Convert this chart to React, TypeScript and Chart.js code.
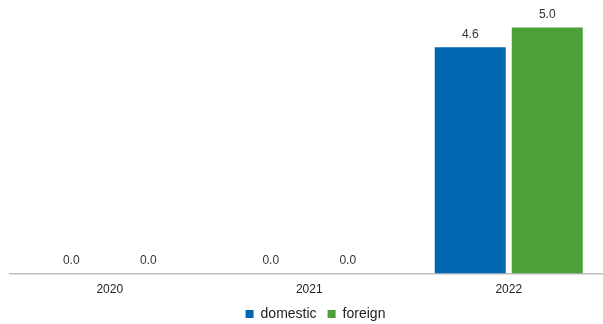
import React, { useEffect, useRef } from "react";
import { Chart, registerables } from "chart.js";

Chart.register(...registerables);

const categories = ["2020", "2021", "2022"];
const seriesNames = ["domestic", "foreign"];
const domesticValues = [0.0, 0.0, 4.6];
const foreignValues = [0.0, 0.0, 5.0];
const seriesColors = ["#0066B0", "#4D9F38"];

const FONT = "'Liberation Sans', Arial, Helvetica, sans-serif";

const valueLabels = {
  id: "valueLabels",
  afterDatasetsDraw(chart: any) {
    const ctx = chart.ctx;
    ctx.save();
    ctx.font = `12px ${FONT}`;
    ctx.fillStyle = "#333333";
    ctx.textAlign = "center";
    ctx.textBaseline = "middle";
    chart.data.datasets.forEach((ds: any, i: number) => {
      const meta = chart.getDatasetMeta(i);
      meta.data.forEach((el: any, j: number) => {
        const v = Number(ds.data[j]);
        ctx.fillText(v.toFixed(1), el.x, el.y - 12.5);
      });
    });
    ctx.restore();
  },
};

// Simple bottom legend drawn from the datasets
const bottomLegend = {
  id: "bottomLegend",
  afterDraw(chart: any) {
    const ctx = chart.ctx;
    const box = 8;
    const textGap = 7;
    const itemGap = 11;
    const cy = chart.height - 10;
    ctx.save();
    ctx.font = `14px ${FONT}`;
    ctx.textBaseline = "middle";
    ctx.textAlign = "left";
    const items = chart.data.datasets.map((ds: any) => ({
      text: String(ds.label),
      color: ds.backgroundColor,
      w: ctx.measureText(String(ds.label)).width,
    }));
    let total = 0;
    items.forEach((it: any, i: number) => {
      total += box + textGap + it.w + (i < items.length - 1 ? itemGap : 0);
    });
    let x = chart.width / 2 - total / 2;
    items.forEach((it: any) => {
      ctx.fillStyle = it.color;
      ctx.fillRect(x, cy - box / 2, box, box);
      x += box + textGap;
      ctx.fillStyle = "#222222";
      ctx.fillText(it.text, x, cy);
      x += it.w + itemGap;
    });
    ctx.restore();
  },
};

export default function App() {
  const ref = useRef<HTMLCanvasElement | null>(null);

  useEffect(() => {
    if (!ref.current) return;
    const chart = new Chart(ref.current, {
      type: "bar",
      data: {
        labels: categories,
        datasets: [
          {
            label: seriesNames[0],
            data: domesticValues,
            backgroundColor: seriesColors[0],
            borderWidth: 0,
            categoryPercentage: 0.772,
            barPercentage: 0.922,
          },
          {
            label: seriesNames[1],
            data: foreignValues,
            backgroundColor: seriesColors[1],
            borderWidth: 0,
            categoryPercentage: 0.772,
            barPercentage: 0.922,
          },
        ],
      },
      options: {
        animation: false,
        responsive: false,
        layout: { padding: { top: 3, bottom: 18, left: 0, right: 0 } },
        plugins: {
          tooltip: { enabled: false },
          legend: { display: false },
        },
        scales: {
          x: {
            grid: { display: false, drawTicks: false },
            border: { display: true, color: "#BDBDBD", width: 1.5 },
            ticks: { color: "#222222", font: { size: 12, family: FONT }, padding: 9 },
          },
          y: {
            min: 0,
            max: 5.5,
            display: true,
            grid: { display: false, drawTicks: false },
            border: { display: false },
            ticks: { display: false },
            afterFit: (s: any) => {
              s.width = 10;
            },
          },
          y2: {
            position: "right",
            display: true,
            grid: { display: false, drawTicks: false },
            border: { display: false },
            ticks: { display: false },
            afterFit: (s: any) => {
              s.width = 22.5;
            },
          },
        },
      } as any,
      plugins: [valueLabels, bottomLegend],
    });
    return () => chart.destroy();
  }, []);

  return (
    <div
      style={{
        position: "fixed",
        left: 0,
        top: 0,
        width: 603,
        height: 324,
        overflow: "hidden",
        background: "#ffffff",
      }}
    >
      <canvas ref={ref} width={631} height={324} style={{ display: "block" }} />
    </div>
  );
}
